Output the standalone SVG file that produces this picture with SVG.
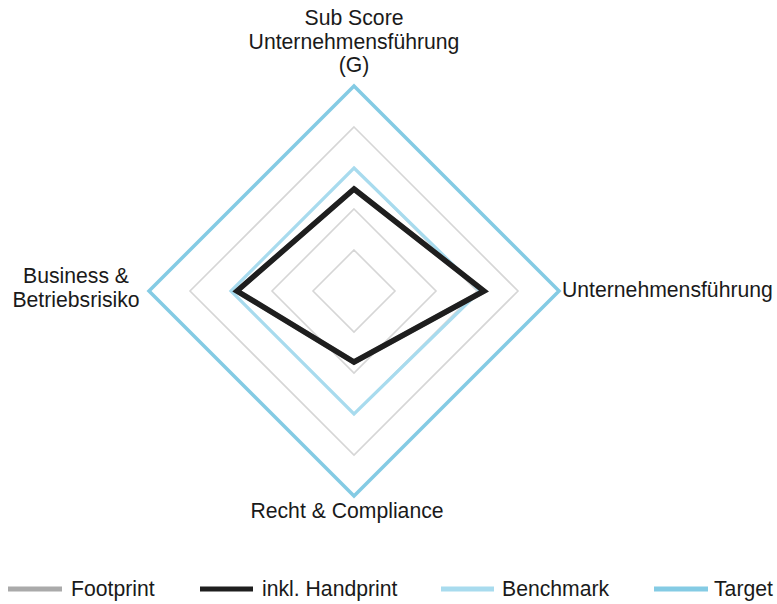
<svg xmlns="http://www.w3.org/2000/svg" width="777" height="604" viewBox="0 0 777 604">
<style>
text{font-family:"Liberation Sans",Arial,sans-serif;font-size:21.2px;fill:#1a1a1a}
.grid{fill:none;stroke:#d6d6d6;stroke-width:1.6}
.target{fill:none;stroke:#84cbe4;stroke-width:3.5}
.bench{fill:none;stroke:#a8dbee;stroke-width:3.2}
.foot{fill:none;stroke:#aaaaaa;stroke-width:5}
.hand{fill:none;stroke:#1e1e1e;stroke-width:5.5;stroke-linejoin:miter}
</style>
<rect width="777" height="604" fill="#ffffff"/>
<g id="grid">
<polygon class="grid" points="354,250 395,291 354,332 313,291"/>
<polygon class="grid" points="354,209 436,291 354,373 272,291"/>
<polygon class="grid" points="354,168 477,291 354,414 231,291"/>
<polygon class="grid" points="354,127 518,291 354,455 190,291"/>
</g>
<g id="series">
<polygon id="target" class="target" points="354,86 559,291 354,496 149,291"/>
<polygon id="benchmark" class="bench" points="354,168 480,291 354,414 231,291"/>
<polygon id="footprint" class="foot" points="354,189 484,291 354,362 237,291"/>
<polygon id="handprint" class="hand" points="354,189 484,291 354,362 237,291"/>
</g>
<g id="label-top">
<text x="354" y="25" text-anchor="middle">Sub Score</text>
<text x="354" y="49" text-anchor="middle">Unternehmensführung</text>
<text x="354" y="72" text-anchor="middle">(G)</text>
</g>
<g id="label-right"><text x="562" y="297">Unternehmensführung</text></g>
<g id="label-bottom"><text x="347" y="518" text-anchor="middle">Recht &amp; Compliance</text></g>
<g id="label-left">
<text x="76" y="283" text-anchor="middle">Business &amp;</text>
<text x="76" y="307" text-anchor="middle">Betriebsrisiko</text>
</g>
<g id="legend">
<line x1="8" y1="589" x2="62" y2="589" stroke="#aaaaaa" stroke-width="5"/>
<text x="71" y="596">Footprint</text>
<line x1="200" y1="589" x2="253" y2="589" stroke="#1e1e1e" stroke-width="5"/>
<text x="262" y="596">inkl. Handprint</text>
<line x1="441" y1="589" x2="494" y2="589" stroke="#a8dbee" stroke-width="5"/>
<text x="502" y="596">Benchmark</text>
<line x1="654" y1="589" x2="708" y2="589" stroke="#84cbe4" stroke-width="5"/>
<text x="714" y="596">Target</text>
</g>
</svg>
